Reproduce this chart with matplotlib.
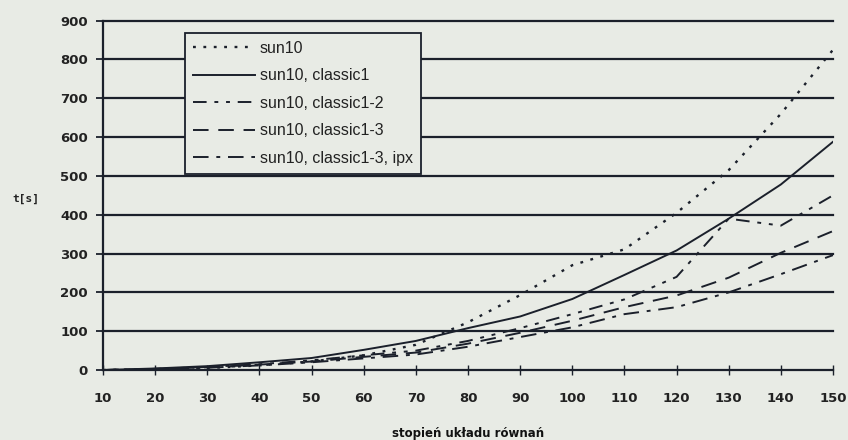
import matplotlib
matplotlib.use("Agg")
import matplotlib.pyplot as plt

# ---- data ----
x = [10, 20, 30, 40, 50, 60, 70, 80, 90, 100, 110, 120, 130, 140, 150]
sun10 = [0, 2, 5, 12, 22, 38, 65, 123, 193, 270, 311, 405, 515, 660, 825]
classic1 = [0, 4, 10, 20, 31, 52, 75, 108, 138, 183, 245, 308, 390, 478, 588]
classic1_2 = [0, 3, 8, 15, 25, 38, 50, 75, 108, 144, 182, 240, 390, 372, 450]
classic1_3 = [0, 3, 7, 14, 22, 34, 45, 68, 96, 127, 162, 192, 238, 302, 358]
classic1_3_ipx = [0, 2, 6, 12, 20, 30, 40, 60, 85, 110, 144, 162, 200, 247, 296]
labels = ["sun10", "sun10, classic1", "sun10, classic1-2",
          "sun10, classic1-3", "sun10, classic1-3, ipx"]
yticks = [0, 100, 200, 300, 400, 500, 600, 700, 800, 900]
xticks = [10, 20, 30, 40, 50, 60, 70, 80, 90, 100, 110, 120, 130, 140, 150]

bg = "#e8ebe5"
ink = "#1b202b"

fig = plt.figure(figsize=(8.48, 4.40), dpi=100, facecolor=bg)
ax = fig.add_axes([0.1215, 0.159, 0.8608, 0.794])
ax.set_facecolor(bg)

styles = [
    (0, (1.2, 3.2)),
    "-",
    (0, (7, 4, 2, 4, 2, 4)),
    (0, (8, 5)),
    (0, (8, 4, 2, 4)),
]
series = [sun10, classic1, classic1_2, classic1_3, classic1_3_ipx]
lws = [1.7, 1.4, 1.4, 1.4, 1.4]
for ys, ls, lab, lw in zip(series, styles, labels, lws):
    ax.plot(x, ys, linestyle=ls, color=ink, lw=lw, label=lab, zorder=3)

for yv in yticks[1:]:
    ax.axhline(yv, color=ink, lw=1.6, zorder=1, clip_on=False)

ax.set_xlim(10, 150)
ax.set_ylim(0, 900)
ax.set_xticks(xticks)
ax.set_yticks(yticks)
for s in ["top", "right"]:
    ax.spines[s].set_visible(False)
for s in ["left", "bottom"]:
    ax.spines[s].set_color(ink)
    ax.spines[s].set_linewidth(1.6)

ax.tick_params(axis="y", direction="out", length=5, width=1.3, color=ink, pad=6)
ax.tick_params(axis="x", direction="inout", length=7, width=1.0, color=ink, pad=12)
for lab in ax.get_xticklabels() + ax.get_yticklabels():
    lab.set_fontweight("bold")
    lab.set_fontsize(9.5)
    lab.set_color("#222")
    lab.set_family("DejaVu Sans")

fig.text(0.030, 0.548, "t[s]", fontsize=8, fontweight="bold",
         family="DejaVu Sans Mono", color="#222", va="center", ha="center")
ax.set_xlabel("stopień układu równań", fontsize=8.5, fontweight="bold",
              color="#111", labelpad=16)

leg = ax.legend(loc="upper left", bbox_to_anchor=(0.112, 0.965), borderaxespad=0,
                handlelength=3.9, handletextpad=0.3, labelspacing=0.78,
                prop={"family": "Liberation Sans", "size": 11.5},
                fancybox=False, framealpha=1, facecolor=bg, edgecolor=ink,
                borderpad=0.5)
leg.get_frame().set_linewidth(1.3)
leg.set_zorder(5)
for t in leg.get_texts():
    t.set_color("#222")

fig.savefig("out.png", dpi=100, facecolor=bg)
